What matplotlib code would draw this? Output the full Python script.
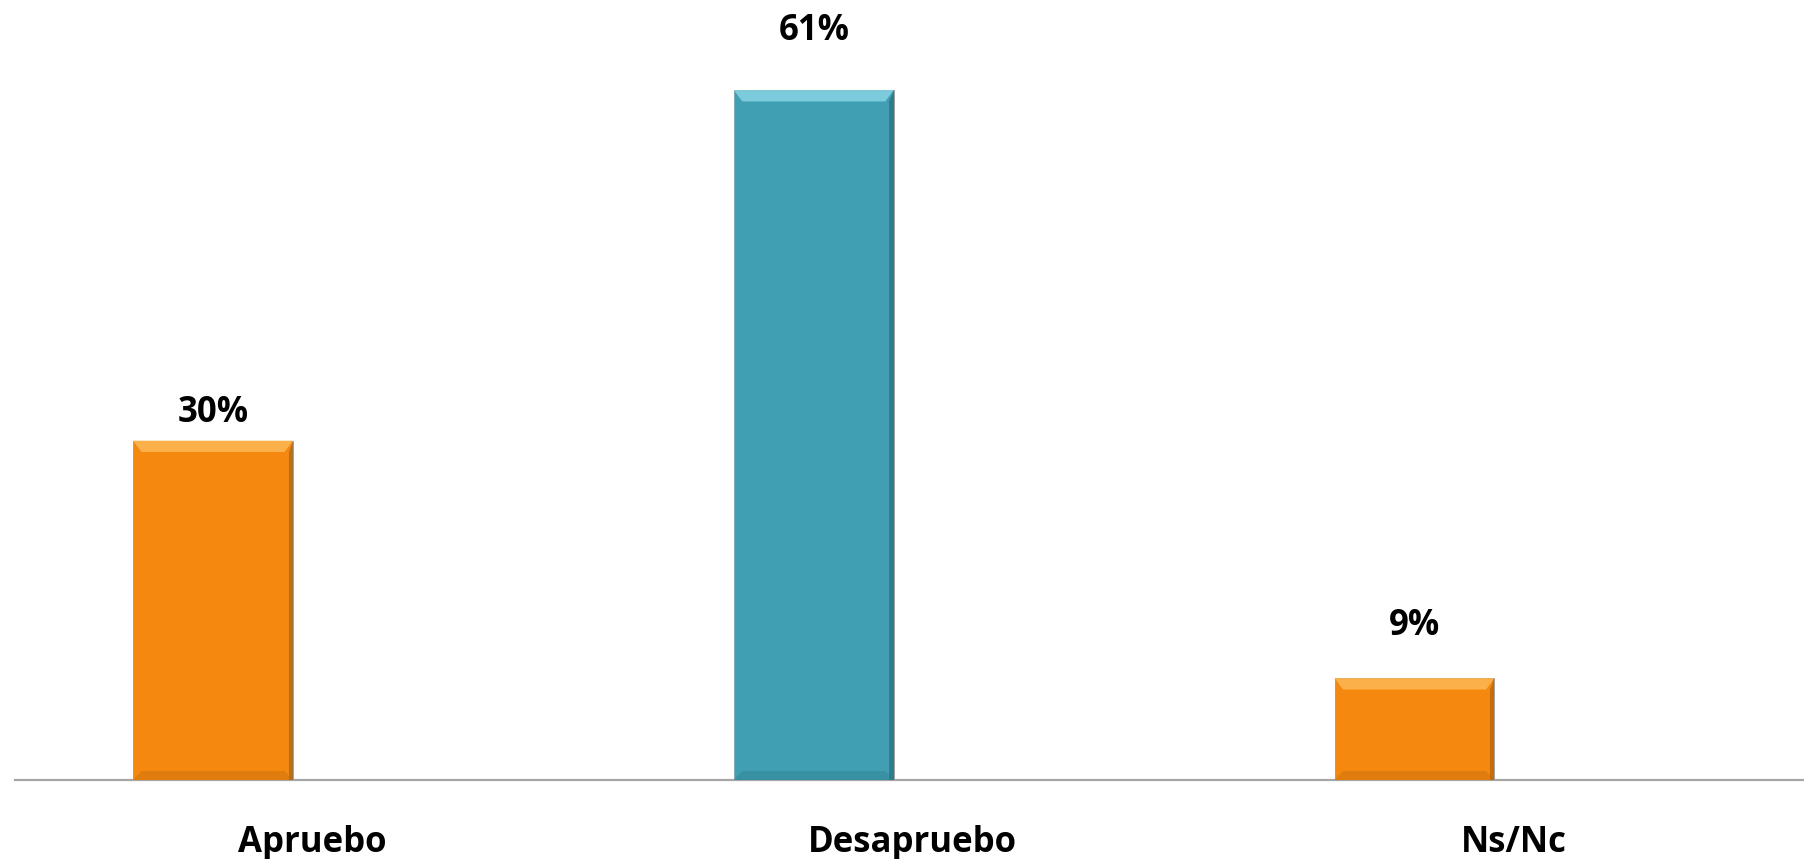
import matplotlib.pyplot as plt
from matplotlib.patches import Polygon

categorias = ['Apruebo', 'Desapruebo', 'Ns/Nc']
valores = [30, 61, 9]
etiquetas = ['30%', '61%', '9%']
colores = ['#F5890F', '#419FB4', '#F5890F']
claros = ['#FBB04A', '#7CCBDC', '#FBB04A']
oscuros = ['#B8660A', '#2A7586', '#B8660A']

plt.rcParams['font.family'] = ['Open Sans', 'DejaVu Sans']

fig = plt.figure(figsize=(18.04, 8.59), dpi=100)
ax = fig.add_axes([0, 0.092, 1, 0.908])

x = list(range(len(categorias)))
ancho = 0.266
ax.bar(x, valores, width=ancho, color=colores, edgecolor='#9a9a9a', linewidth=0.6, zorder=2)

ax.set_xlim(-0.3546, 2.6483)
ax.set_ylim(0, 68.97)

# bisel sencillo: franja clara arriba, borde oscuro a la derecha
b = 0.014
h = 1.0
for xi, v, cl, osc in zip(x, valores, claros, oscuros):
    x0, x1 = xi - ancho / 2, xi + ancho / 2
    ax.add_patch(Polygon([(x0, v), (x1, v), (x1 - b, v - h), (x0 + b, v - h)],
                         closed=True, facecolor=cl, edgecolor='none', zorder=3))
    ax.add_patch(Polygon([(x1, v), (x1, 0), (x1 - b * 0.5, 0), (x1 - b * 0.5, v - h)],
                         closed=True, facecolor=osc, edgecolor='none', zorder=3, alpha=0.8))
    ax.add_patch(Polygon([(x0, 0), (x1, 0), (x1 - b, h * 0.8), (x0 + b, h * 0.8)],
                         closed=True, facecolor=osc, edgecolor='none', zorder=3, alpha=0.35))

# separaciones de las etiquetas (px sobre la barra)
desfase = [10, 41, 34]
for xi, v, t, d in zip(x, valores, etiquetas, desfase):
    ax.annotate(t, (xi, v), xytext=(0, d * 0.72), textcoords='offset points',
                ha='center', va='bottom', fontsize=25, fontweight='bold', color='black')

for xi, c in zip(x, categorias):
    ax.annotate(c, (xi, 0), xytext=(99 * 0.72, -63 * 0.72), textcoords='offset points',
                ha='center', va='center', fontsize=25, fontweight='bold', color='black',
                annotation_clip=False)

ax.plot([-0.33, 2.6483], [0, 0], color='#A6A6A6', linewidth=1.6, zorder=1, clip_on=False)
for s in ax.spines.values():
    s.set_visible(False)
ax.set_xticks([])
ax.set_yticks([])

fig.savefig('out.png', dpi=100)
